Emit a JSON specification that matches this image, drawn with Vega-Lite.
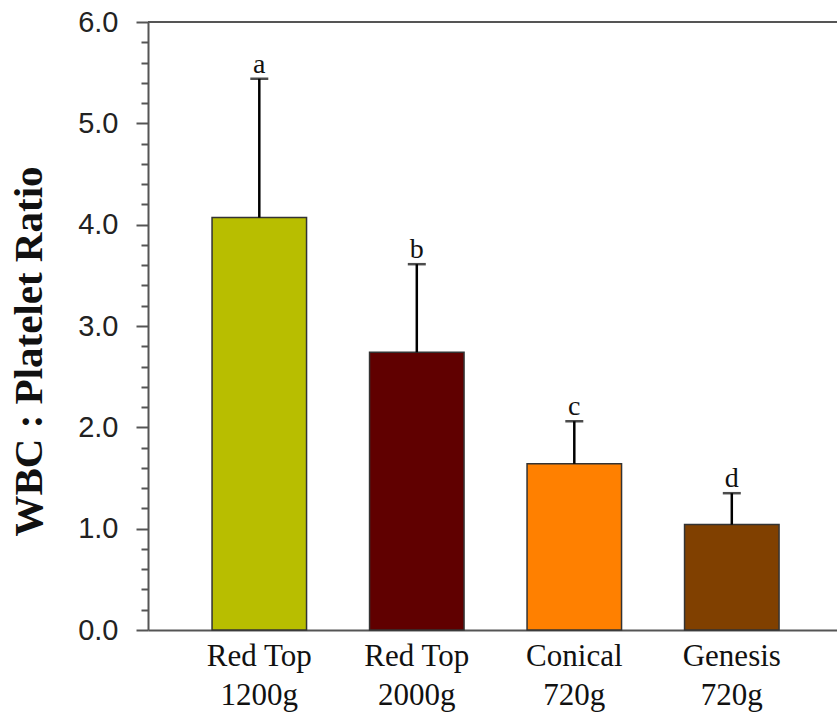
{
  "$schema": "https://vega.github.io/schema/vega-lite/v6.json",
  "autosize": {"type": "none"},
  "width": 689,
  "height": 608,
  "padding": {"left": 148, "top": 22, "right": 0, "bottom": 89},
  "background": "white",
  "config": {"view": {"stroke": null}, "axis": {"labelOverlap": false}},
  "data": {
    "values": [
      {"group": "Red Top 1200g", "ratio": 4.07, "upper": 5.44, "letter": "a"},
      {"group": "Red Top 2000g", "ratio": 2.74, "upper": 3.61, "letter": "b"},
      {"group": "Conical 720g", "ratio": 1.64, "upper": 2.06, "letter": "c"},
      {"group": "Genesis 720g", "ratio": 1.04, "upper": 1.35, "letter": "d"}
    ]
  },
  "encoding": {
    "x": {
      "field": "group",
      "type": "nominal",
      "sort": null,
      "scale": {"paddingInner": 0.4, "paddingOuter": 0.3873, "align": 0.525},
      "axis": {
        "title": null,
        "ticks": false,
        "labelAngle": 0,
        "labelFont": "Liberation Serif",
        "labelFontSize": 31,
        "labelColor": "#111",
        "labelPadding": 11,
        "labelLineHeight": 39,
        "labelBaseline": "top",
        "labelExpr": "[substring(datum.label, 0, lastindexof(datum.label, ' ')), substring(datum.label, lastindexof(datum.label, ' ') + 1)]",
        "domainColor": "#555",
        "domainWidth": 2
      }
    }
  },
  "layer": [
    {
      "mark": {"type": "bar", "stroke": "#333", "strokeWidth": 1.5},
      "encoding": {
        "y": {
          "field": "ratio",
          "type": "quantitative",
          "scale": {"domain": [0, 6], "nice": false, "zero": true},
          "axis": {
            "title": "WBC : Platelet Ratio",
            "titleFont": "Liberation Serif",
            "titleFontWeight": "bold",
            "titleFontSize": 41,
            "titleColor": "#111",
            "titleAngle": -90,
            "titleAlign": "center",
            "titleBaseline": "middle",
            "titleX": -119,
            "titleY": 329,
            "values": [0, 0.2, 0.4, 0.6, 0.8, 1, 1.2, 1.4, 1.6, 1.8, 2, 2.2, 2.4, 2.6, 2.8, 3, 3.2, 3.4, 3.6, 3.8, 4, 4.2, 4.4, 4.6, 4.8, 5, 5.2, 5.4, 5.6, 5.8, 6],
            "tickCount": 60,
            "labelExpr": "abs(datum.value - round(datum.value)) < 0.001 ? format(datum.value, '.1f') : ''",
            "labelOverlap": false,
            "labelFont": "Liberation Sans",
            "labelFontSize": 29,
            "labelColor": "#222",
            "labelPadding": 18,
            "grid": false,
            "domainColor": "#555",
            "domainWidth": 2,
            "tickColor": "#555",
            "tickWidth": 2,
            "tickSize": {"condition": {"test": "abs(datum.value - round(datum.value)) < 0.001", "value": 12}, "value": 7}
          }
        },
        "fill": {
          "field": "group",
          "type": "nominal",
          "sort": null,
          "scale": {"range": ["#B8BE00", "#600000", "#FF8000", "#804000"]},
          "legend": null
        }
      }
    },
    {
      "mark": {"type": "rule", "color": "#555", "strokeWidth": 2},
      "encoding": {"y": {"datum": 6, "type": "quantitative"}, "x": null}
    },
    {
      "mark": {"type": "rule", "color": "black", "strokeWidth": 2.5},
      "encoding": {
        "y": {"field": "ratio", "type": "quantitative"},
        "y2": {"field": "upper"}
      }
    },
    {
      "mark": {"type": "tick", "color": "black", "thickness": 2.5, "size": 18, "orient": "horizontal"},
      "encoding": {"y": {"field": "upper", "type": "quantitative"}}
    },
    {
      "mark": {"type": "text", "font": "Liberation Serif", "fontSize": 28, "color": "#111", "baseline": "alphabetic", "dy": -6},
      "encoding": {
        "y": {"field": "upper", "type": "quantitative"},
        "text": {"field": "letter"}
      }
    }
  ]
}
